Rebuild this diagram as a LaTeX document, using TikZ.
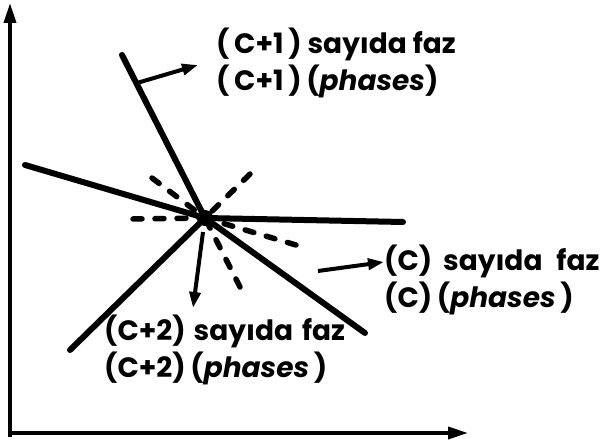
\documentclass[tikz,border=0pt]{standalone}
\usepackage{fontspec}
\setmainfont{Poppins}
\usetikzlibrary{arrows.meta, positioning, calc}

\begin{document}
\begin{tikzpicture}[x=1pt, y=-1pt,
    phaseline/.style={line width=6pt, line cap=round},
    metaline/.style={line width=5.5pt, line cap=round, dash pattern=on 9pt off 13pt},
    axisline/.style={line width=3.5pt, -{Triangle[length=20pt, width=12pt]}},
    pointer/.style={line width=4pt, -{Triangle[length=16pt, width=11pt]}},
    phasetext/.style={anchor=north west, inner sep=0pt, align=left,
        font=\bfseries\fontsize{28}{37}\selectfont}]
    \useasboundingbox (0,0) rectangle (603,443);

    % axes
    \coordinate (origin) at (10,433);
    \coordinate (ytop) at (10,3);
    \coordinate (xend) at (468,433);
    \draw[axisline] (10,437) -- (ytop);
    \draw[axisline] (8,433) -- (xend);

    % invariant point and its phase boundaries
    \coordinate (inv) at (205,218);
    \coordinate (top) at (122,55);
    \coordinate (left) at (25,165);
    \coordinate (right) at (403,222);
    \coordinate (lowleft) at (70,350);
    \coordinate (lowright) at (365,333);

    % metastable extensions
    \draw[metaline] (240,287) -- (inv);
    \draw[metaline] (296,245) -- (inv);
    \draw[metaline] (133,219) -- (inv);
    \draw[metaline] (250,174) -- (inv);
    \draw[metaline] (152,178) -- (inv);

    \draw[phaseline] (top) -- (inv);
    \draw[phaseline] (left) -- (inv);
    \draw[phaseline] (inv) -- (right);
    \draw[phaseline] (inv) -- (lowleft);
    \draw[phaseline] (inv) -- (lowright);
    \fill (inv) circle (8pt);

    % labels
    \node[phasetext] (cplus1) at (216,28)
        {(\,C+1\,) sayıda faz\\(\,C+1\,)\,(\textit{phases})};
    \node[phasetext] (cnull) at (384,245)
        {(C)\hspace{5pt} sayıda\hspace{8pt} faz\\(C)\,(\textit{phases}\,)};
    \node[phasetext] (cplus2) at (104,315)
        {(C+2)\hspace{2pt} sayıda\hspace{3pt} faz\\(C+2)\,(\textit{phases}\,)};

    \coordinate (p1) at (137,83);
    \coordinate (p2) at (203,232);
    \coordinate (p3) at (318,271);
    \draw[pointer] (p1) -- (198,65);
    \draw[pointer] (p2) -- (193,308);
    \draw[pointer] (p3) -- (384,262);
\end{tikzpicture}
\end{document}
